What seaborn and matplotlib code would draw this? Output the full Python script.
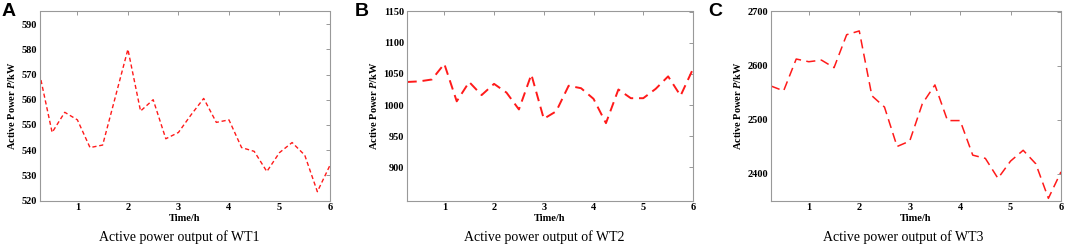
import numpy as np
import pandas as pd
import seaborn as sns
import matplotlib.pyplot as plt

# time axis, 15-min steps
time_h = [0.25, 0.5, 0.75, 1.0, 1.25, 1.5, 1.75, 2.0, 2.25, 2.5, 2.75, 3.0,
          3.25, 3.5, 3.75, 4.0, 4.25, 4.5, 4.75, 5.0, 5.25, 5.5, 5.75, 6.0]

wt1 = [570.5, 547, 555, 552, 541, 542, 561, 580, 555.5, 560, 544.5, 547,
       554, 560.5, 551, 552, 541, 539.5, 531.5, 539, 543, 538, 523.5, 534]
wt2 = [1037, 1038, 1041, 1066, 1006, 1037, 1016, 1034, 1020, 993, 1049, 978,
       990, 1031, 1027, 1010, 971, 1025, 1011, 1011, 1026, 1046, 1015, 1058]
wt3 = [2562, 2553, 2612, 2607, 2610, 2596, 2657, 2664, 2544, 2523, 2450, 2460,
       2529, 2564, 2498, 2498, 2434, 2428, 2391, 2423, 2443, 2418, 2354, 2403]

panel_letters = ["A", "B", "C"]
captions = ["Active power output of WT1", "Active power output of WT2",
            "Active power output of WT3"]
y_ticks = [[520, 530, 540, 550, 560, 570, 580, 590],
           [900, 950, 1000, 1050, 1100, 1150],
           [2400, 2500, 2600, 2700]]
y_lims = [(520, 595), (847, 1150), (2350, 2700)]
x_ticks = [1, 2, 3, 4, 5, 6]

sns.set_style("white", {"text.color": "black", "axes.labelcolor": "black",
                        "xtick.color": "black", "ytick.color": "black"})
plt.rcParams['font.family'] = ['Liberation Serif', 'DejaVu Serif']
plt.rcParams['mathtext.fontset'] = 'custom'
plt.rcParams['mathtext.it'] = 'Liberation Serif:italic:bold'
plt.rcParams['mathtext.rm'] = 'Liberation Serif:bold'

fig = plt.figure(figsize=(10.65, 2.49), dpi=100)
W, H = 1065.0, 249.0
boxes = [(39.5, 330), (407, 693), (771, 1061)]
caption_x = [179, 544, 903]
letter_x = [2, 355, 708]

series = [wt1, wt2, wt3]
styles = [dict(lw=1.0, dashes=(3, 2)), dict(lw=1.4, dashes=(5, 3)),
          dict(lw=1.1, dashes=(6, 3.5))]

for i in range(3):
    l, r = boxes[i]
    ax = fig.add_axes([l / W, 1 - 200.5 / H, (r - l) / W, (200.5 - 11.5) / H])
    df = pd.DataFrame({"t": time_h, "p": series[i]})
    sns.lineplot(data=df, x="t", y="p", ax=ax, color="#ff1a1a",
                 linewidth=styles[i]["lw"], dashes=False)
    ax.lines[0].set_dashes(styles[i]["dashes"])
    ax.set_xlim(0.25, 6)
    ax.set_ylim(*y_lims[i])
    ax.set_xticks(x_ticks)
    ax.set_yticks(y_ticks[i])
    ax.tick_params(direction='in', length=3, width=0.6, color='#888888',
                   labelcolor='black', top=True, right=True, labelsize=7.5,
                   pad=2)
    for lab in ax.get_xticklabels() + ax.get_yticklabels():
        lab.set_fontweight('bold')
    for sp in ax.spines.values():
        sp.set_color('#999999')
        sp.set_linewidth(0.8)
    ax.set_xlabel("Time/h", fontsize=7.5, fontweight='bold', labelpad=1,
                  color='black')
    ax.set_ylabel(r"Active Power $\mathit{P}$/kW", fontsize=7.5,
                  fontweight='bold', labelpad=3, color='black')
    fig.text(caption_x[i] / W, 1 - 237 / H, captions[i], fontsize=10,
             ha='center', va='center', color='black')
    fig.text(letter_x[i] / W, 1 - 12 / H, panel_letters[i], fontsize=14,
             fontweight='bold', family='Liberation Sans', ha='left',
             va='center', color='black')

fig.savefig("out.png", dpi=100)
